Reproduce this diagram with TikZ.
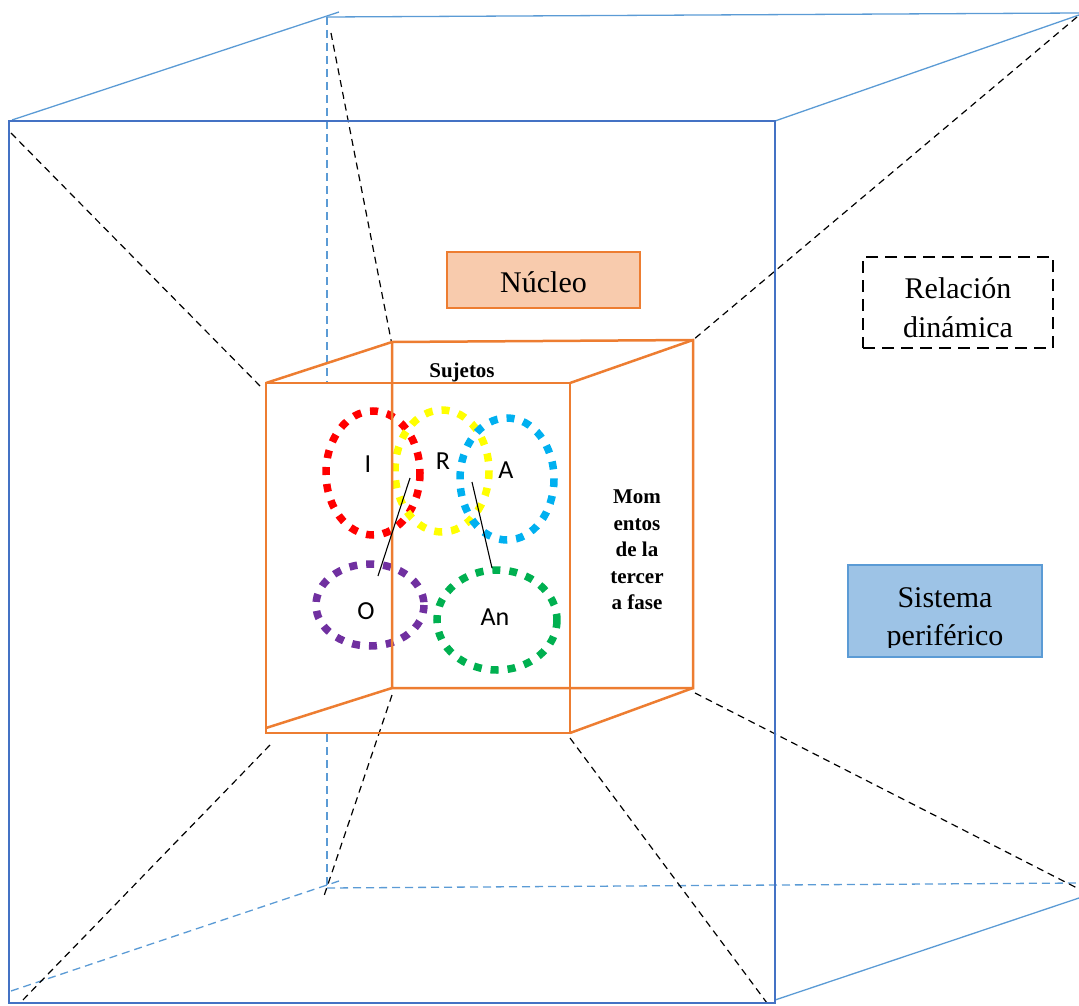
\documentclass[tikz,border=0pt]{standalone}
\usepackage{fontspec}
\setmainfont{Liberation Serif}
\newfontfamily\calib{Carlito}
\definecolor{frontblue}{HTML}{4472C4}
\definecolor{backblue}{HTML}{5B9BD5}
\definecolor{corange}{HTML}{ED7D31}
\definecolor{peach}{HTML}{F8CBAD}
\definecolor{lightblue}{HTML}{9DC3E6}
\definecolor{cred}{HTML}{FF0000}
\definecolor{cyellow}{HTML}{FFFF00}
\definecolor{cblue}{HTML}{00B0F0}
\definecolor{cpurple}{HTML}{7030A0}
\definecolor{cgreen}{HTML}{00B050}
\begin{document}
\begin{tikzpicture}[x=1pt,y=-1pt,
  backline/.style={draw=backblue,line width=1.3pt},
  backdash/.style={draw=backblue,line width=1.3pt,dash pattern=on 8pt off 5pt},
  persp/.style={draw=black,line width=1.2pt,dash pattern=on 7pt off 5pt},
  cubeline/.style={draw=corange,line width=2.5pt,line join=miter},
  ring/.style={line width=7.5pt,dash pattern=on 8pt off 9pt},
  letter/.style={font=\calib\fontsize{26}{26}\selectfont,anchor=base,inner sep=0pt},
  boldlbl/.style={font=\bfseries\fontsize{21}{21}\selectfont,anchor=base,inner sep=0pt},
  biglbl/.style={font=\fontsize{30}{30}\selectfont,anchor=base,inner sep=0pt}
]
\useasboundingbox (0,0) rectangle (1079,1006);

% outer cube corners
\coordinate (oFTL) at (9,121);
\coordinate (oFTR) at (775,121);
\coordinate (oFBR) at (775,1003);
\coordinate (oFBL) at (9,1003);
\coordinate (oBTL) at (327,17);
\coordinate (oBTR) at (1079,13);
\coordinate (oBBL) at (327,888);
\coordinate (oBBR) at (1079,883);
\coordinate (e1a) at (12,120);
\coordinate (e1b) at (339,12);
\coordinate (e3b) at (1079,15);
\coordinate (e4a) at (775,1000);
\coordinate (e4b) at (1079,898);
\coordinate (e2a) at (11,991);
\coordinate (e2b) at (339,881);
\coordinate (vTopEnd) at (327,383);
\coordinate (vBotStart) at (327,734);

% back (thin) edges
\draw[backline] (e1a) -- (e1b);
\draw[backline] (oBTL) -- (oBTR);
\draw[backline] (oFTR) -- (e3b);
\draw[backline] (e4a) -- (e4b);
\draw[backdash] (oBTL) -- (vTopEnd);
\draw[backdash] (vBotStart) -- (oBBL);
\draw[backdash] (e2a) -- (e2b);
\draw[backdash] (oBBL) -- (oBBR);

% inner cube corners
\coordinate (fTL) at (266,383);
\coordinate (fTR) at (570,383);
\coordinate (fBR) at (570,733);
\coordinate (fBL) at (266,733);
\coordinate (bTL) at (392,342);
\coordinate (bTR) at (693,340);
\coordinate (bBR) at (693,688);
\coordinate (bBL) at (392,688);

% perspective dashed lines
\coordinate (p1a) at (11,133);   \coordinate (p1b) at (263,389);
\coordinate (p2a) at (331,33);   \coordinate (p2b) at (392,345);
\coordinate (p3a) at (1077,17);  \coordinate (p3b) at (693,340);
\coordinate (p4a) at (695,693);  \coordinate (p4b) at (1079,889);
\coordinate (p5a) at (570,738);  \coordinate (p5b) at (767,1003);
\coordinate (p6a) at (392,695);  \coordinate (p6b) at (324,896);
\coordinate (p7a) at (270,745);  \coordinate (p7b) at (20,1003);
\draw[persp] (p1a) -- (p1b);
\draw[persp] (p2a) -- (p2b);
\draw[persp] (p3a) -- (p3b);
\draw[persp] (p4a) -- (p4b);
\draw[persp] (p5a) -- (p5b);
\draw[persp] (p6a) -- (p6b);
\draw[persp] (p7a) -- (p7b);

% outer front face
\draw[draw=frontblue,line width=2.6pt] (oFTL) rectangle (oFBR);

% rings
\draw[ring,cred] (373,473) ellipse [x radius=47, y radius=62];
\draw[ring,cyellow] (442,471) ellipse [x radius=47, y radius=61];
\draw[ring,cblue] (507,479) ellipse [x radius=47, y radius=61];
\draw[ring,cpurple] (370,605) ellipse [x radius=54, y radius=41];
\draw[ring,cgreen] (497,620) ellipse [x radius=60, y radius=50];

% inner cube
\draw[cubeline] (fTL) rectangle (fBR);
\draw[cubeline] (bTL) -- (bTR) -- (bBR) -- (bBL) -- cycle;
\draw[cubeline] (fTL) -- (bTL);
\draw[cubeline] (fTR) -- (bTR);
\draw[cubeline] (266,728) -- (bBL);
\draw[cubeline] (fBR) -- (bBR);

% labels inside inner cube
\node[boldlbl] (suj) at (462,377) {Sujetos};
\node[boldlbl] (m1) at (637,503) {Mom};
\node[boldlbl] (m2) at (637,530) {entos};
\node[boldlbl] (m3) at (637,556.5) {de la};
\node[boldlbl] (m4) at (637,583) {tercer};
\node[boldlbl] (m5) at (637,609) {a fase};

\node[letter] (lI) at (368,472) {I};
\node[letter] (lR) at (443,469) {R};
\node[letter] (lA) at (506,478) {A};
\node[letter] (lO) at (366,619) {O};
\node[letter] (lAn) at (495,625) {An};

% connecting lines
\coordinate (c1a) at (410,478); \coordinate (c1b) at (378,576);
\coordinate (c2a) at (472,482); \coordinate (c2b) at (492,568);
\draw[line width=1.1pt] (c1a) -- (c1b);
\draw[line width=1.1pt] (c2a) -- (c2b);

% Nucleo box
\node[draw=corange,fill=peach,line width=2pt,minimum width=193pt,minimum height=56pt,
      inner sep=0pt,text height=24pt,text depth=0pt,font=\fontsize{30}{30}\selectfont]
      (nuc) at (543.5,280) {Núcleo};

% Relacion dinamica box
\node[draw=black,line width=2.2pt,dash pattern=on 12pt off 7pt,minimum width=190pt,minimum height=91pt,inner sep=0pt]
      (rel) at (958,302.5) {};
\node[biglbl] (rel1) at (958,298) {Relación};
\node[biglbl] (rel2) at (958,337) {dinámica};

% Sistema periferico box
\node[draw=backblue,fill=lightblue,line width=2pt,minimum width=194pt,minimum height=92pt,inner sep=0pt]
      (sis) at (945,611) {};
\begin{scope}
\clip (848,565) rectangle (1042,647);
\node[biglbl] (sis1) at (945,607) {Sistema};
\node[biglbl] (sis2) at (945,645) {periférico};
\end{scope}
\end{tikzpicture}
\end{document}
